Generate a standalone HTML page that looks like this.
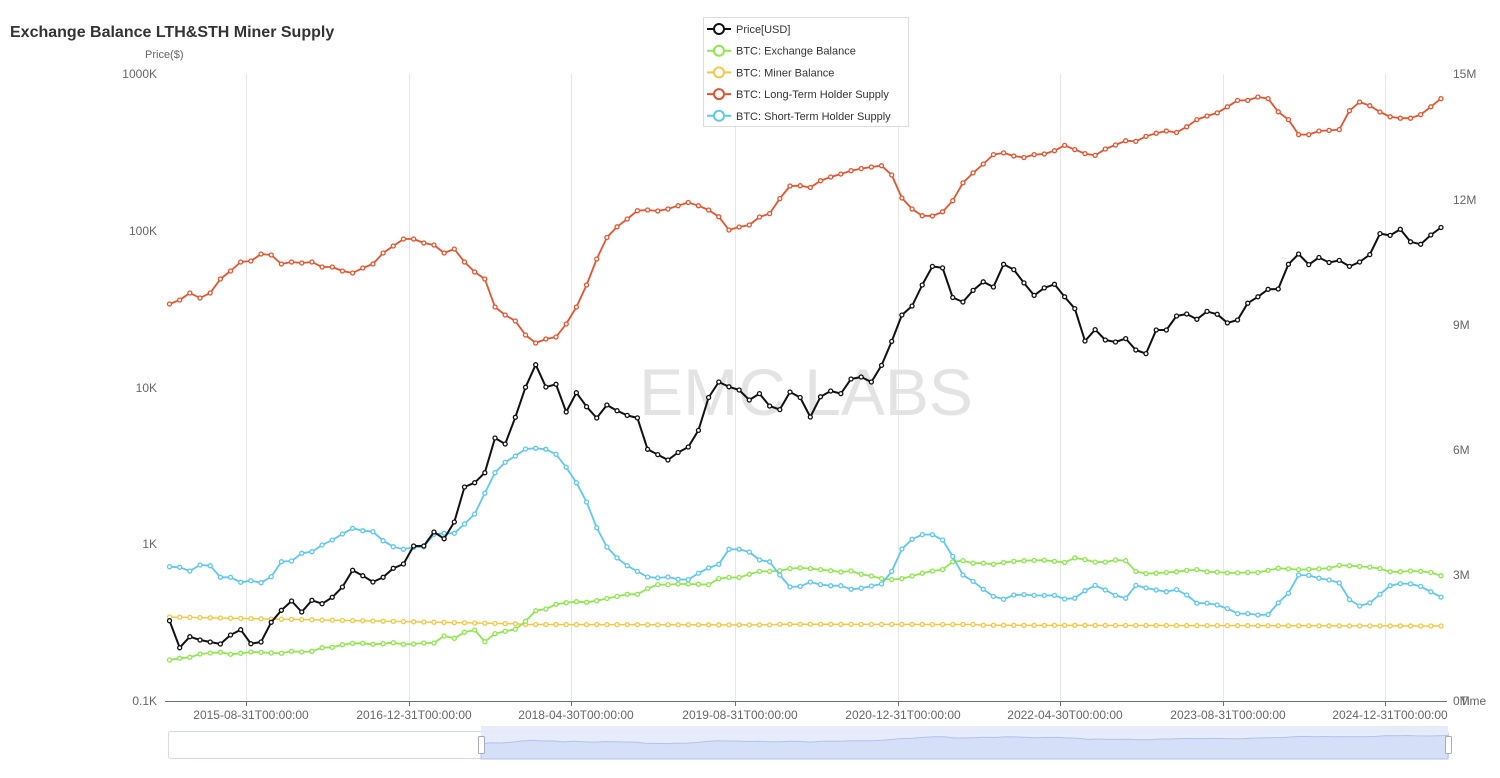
<!DOCTYPE html>
<html><head><meta charset="utf-8"><style>
body{margin:0;background:#fff;}
svg{display:block;font-family:"Liberation Sans",Arial,sans-serif;}
</style></head><body>
<svg id="s" width="1500" height="778" viewBox="0 0 1500 778" xmlns="http://www.w3.org/2000/svg">
<rect width="1500" height="778" fill="#fff"/>
<text x="10" y="37" font-size="16" font-weight="bold" fill="#333">Exchange Balance LTH&amp;STH Miner Supply</text>
<text x="145" y="58" font-size="11" fill="#666">Price($)</text>
<g stroke="#e6e6e6" stroke-width="1">
<line x1="246.5" y1="74" x2="246.5" y2="701"/><line x1="409.5" y1="74" x2="409.5" y2="701"/>
<line x1="571.5" y1="74" x2="571.5" y2="701"/><line x1="735.5" y1="74" x2="735.5" y2="701"/>
<line x1="898.5" y1="74" x2="898.5" y2="701"/><line x1="1060.5" y1="74" x2="1060.5" y2="701"/>
<line x1="1223.5" y1="74" x2="1223.5" y2="701"/><line x1="1385.5" y1="74" x2="1385.5" y2="701"/>
</g>
<text x="806" y="415" font-size="66" fill="#e3e3e3" text-anchor="middle">EMC LABS</text>
<g font-size="12" fill="#666" text-anchor="end">
<text x="157" y="78">1000K</text><text x="157" y="235">100K</text><text x="157" y="392">10K</text>
<text x="157" y="548">1K</text><text x="157" y="705">0.1K</text>
</g>
<g font-size="12" fill="#666">
<text x="1453" y="78">15M</text><text x="1453" y="204">12M</text><text x="1453" y="329">9M</text>
<text x="1453" y="454">6M</text><text x="1453" y="579">3M</text><text x="1453" y="705">0M</text><text x="1460" y="705">Time</text>
</g>
<line x1="165" y1="701.5" x2="1447" y2="701.5" stroke="#6e7079"/>
<g stroke="#6e7079">
<line x1="246.5" y1="701" x2="246.5" y2="706"/><line x1="409.5" y1="701" x2="409.5" y2="706"/>
<line x1="571.5" y1="701" x2="571.5" y2="706"/><line x1="735.5" y1="701" x2="735.5" y2="706"/>
<line x1="898.5" y1="701" x2="898.5" y2="706"/><line x1="1060.5" y1="701" x2="1060.5" y2="706"/>
<line x1="1223.5" y1="701" x2="1223.5" y2="706"/><line x1="1385.5" y1="701" x2="1385.5" y2="706"/>
</g>
<g font-size="12" fill="#666" text-anchor="middle">
<text x="251" y="719">2015-08-31T00:00:00</text><text x="414" y="719">2016-12-31T00:00:00</text>
<text x="576" y="719">2018-04-30T00:00:00</text><text x="740" y="719">2019-08-31T00:00:00</text>
<text x="903" y="719">2020-12-31T00:00:00</text><text x="1065" y="719">2022-04-30T00:00:00</text>
<text x="1228" y="719">2023-08-31T00:00:00</text><text x="1390" y="719">2024-12-31T00:00:00</text>
</g>
<g id="series"></g>
<rect x="168.5" y="731.5" width="1280" height="27" fill="#fff" stroke="#d2dbee" rx="2"/>
<rect x="481" y="726" width="967" height="33" fill="#e4eafb" opacity="0.9"/>
<path id="mini" fill="#d6dff8" stroke="#b4c2ea" stroke-width="1"/>
<rect x="478.5" y="736.5" width="6" height="17" fill="#fff" stroke="#aab" rx="1"/>
<rect x="1445.5" y="736.5" width="6" height="17" fill="#fff" stroke="#aab" rx="1"/>
<rect x="703.5" y="17.5" width="205" height="109" fill="#fff" stroke="#ddd"/>
<g id="legend" font-size="11" fill="#333"></g>
</svg>
<script>
var R=[304,300,293,298,293,279,271,262,261,254,255,264,262,263,262,267,267,271,273,268,264,253,246,239,239,243,245,253,249,262,272,279,307,315,321,335,343,339,337,324,307,285,259,237.5,226.8,219,210.7,210,211,209,205.7,202.5,205.7,210,216.8,230,227,225,217,213.6,198.6,186,185.7,187.5,180.7,177,174,170.7,168.6,167,165.7,175,198,209,215.7,216,211.8,200.7,182.9,172.9,164,154.6,152.9,156,157.5,154.6,154,150.7,145.4,149.6,153.6,155.4,149,145,140.7,141.4,136.4,133.2,131,132.5,126.8,119.6,116,112.9,106.8,100.4,100.4,97,98.6,111.8,119.6,134.6,134.6,131,130.4,129.6,110.7,102,105.7,112,116.8,118.2,118.2,114.6,106.8,98.6];
var K=[620.7,647.7,636.7,640,642,644,635,629.7,643.7,642,622.3,610.3,601,612,600.3,603.7,597.3,587,570.3,575.7,582,577.3,568.3,564,546,546,532,538.7,522,487,482.7,472.7,438,444,417.3,387.3,364.7,387,384.3,412,392.7,406.7,418,405,410.7,415.4,417.9,449.3,454.6,460,452.5,447,430.4,397.5,382,386.8,390,400,393.6,406,409.6,392,397.5,417,396.8,391,393.6,379,377,382,365.4,341.4,315,306,285,266.4,267.9,297.5,302,290.4,281.8,287,264.3,269.6,282.9,295.4,287.9,284.3,296.8,308.6,341,329.6,340,342,338.6,350,353.6,330,330,316,314,319.3,311.4,314.3,322.9,320,303.2,296.8,289.3,289,264.3,254,264.6,257.5,262.5,260.4,266.4,262,254.6,233.6,235.4,229.3,241.8,244.3,235,227.5];
var B=[566.7,567.3,571,565,565.7,577.3,577.3,582.3,580.7,582.7,576.7,561.7,561,553.3,551.7,545,540,534,528.3,530.7,531.7,540.7,546.7,549.3,547.3,546.7,534.3,533.3,533.3,524,514,493.3,472.7,462.3,456,449,448.3,449.3,454.3,467.3,482.7,502,527.7,547,557.9,565.7,571.4,577,577.9,577,579.3,579.6,573.2,567.9,564.3,549.3,549.3,552,560,561.8,575,587,586.4,582,584.6,585.7,585.7,589.3,588.2,586,584,571.4,549,539.3,534.6,534.6,540,556.4,575,581.4,589.3,596.4,599.3,595,594.6,595.4,595.5,595.4,599,598.2,590.7,585.4,590,595.4,598.2,585.4,587.9,590,591.8,589.6,595,603.2,603.2,605,608.6,613.6,613.6,615,614.6,602.9,593.2,575,575.4,578.2,580,582.9,599.6,606,602.9,594.3,585.7,583.6,583.9,586.4,591.8,597.1];
var G=[660,658.3,657.3,654,653,652.3,654.3,653.3,652,652.3,653,653.3,651.3,652,651.3,647.7,647.3,644.7,643.3,643.3,644.3,643.7,642.7,644.3,644,643,643,636,638.3,632.3,630,641.7,633.7,631.3,629.3,621.3,610.7,609,604.3,602.7,601.7,602.3,600.7,598.5,596.4,594.3,594.3,588.6,584.6,584.6,584,584,584.3,584.6,578.6,577.5,577.5,574.3,571.4,571.4,570.7,568.6,567.9,568.6,569.6,570.7,572,571,574.3,576,578.6,579.6,578.6,576,573.2,571,569.6,561.8,560.7,563.2,563.2,564.3,562.5,561.4,560.7,560.4,560.2,561.4,562.5,557.9,559.6,562.1,562.1,560,560.7,571.4,573.6,573.2,572.5,571.8,570.4,569.6,571.8,572.1,572.9,572.9,572.5,572.5,570.4,568.2,568.9,569.6,569.3,568.9,568.2,565.4,565.7,566.4,567.1,568.6,571.8,571.8,571,571.4,572.5,575.7];
var N=126,X=function(i){return 169.5+i*(1271.5/125);};
var Y=[];for(var i=0;i<N;i++){var v;if(i<35)v=617+i*(7/35);else v=624.5+(i-35)*(1.5/90);if(i>=60&&i<80)v-=0.7;Y.push(v);}
var ns="http://www.w3.org/2000/svg",g=document.getElementById('series');
function draw(arr,col,w){var p="";for(var i=0;i<arr.length;i++)p+=(i?"L":"M")+X(i).toFixed(1)+","+arr[i];
var e=document.createElementNS(ns,'path');e.setAttribute('d',p);e.setAttribute('fill','none');e.setAttribute('stroke',col);e.setAttribute('stroke-width',w);e.setAttribute('stroke-linejoin','round');g.appendChild(e);
for(var i=0;i<arr.length;i++){var c=document.createElementNS(ns,'circle');c.setAttribute('cx',X(i));c.setAttribute('cy',arr[i]);c.setAttribute('r',2);c.setAttribute('fill','#fff');c.setAttribute('stroke',col);c.setAttribute('stroke-width',1.3);g.appendChild(c);}}
draw(Y,'#f5c842',1.5);draw(G,'#8ee84d',1.8);draw(B,'#5ec8f0',1.8);draw(R,'#e8532e',1.8);draw(K,'#111',2);
var m="M481,759";for(var i=31;i<N;i++){var x=481+(i-31)*(967/94);var y=752-(701-K[i])*0.035;m+="L"+x.toFixed(1)+","+y.toFixed(1);}m+="L1448,759Z";
document.getElementById('mini').setAttribute('d',m);
var L=document.getElementById('legend'),names=[['Price[USD]','#111'],['BTC: Exchange Balance','#8ee84d'],['BTC: Miner Balance','#f5c842'],['BTC: Long-Term Holder Supply','#e8532e'],['BTC: Short-Term Holder Supply','#5ec8f0']];
names.forEach(function(n,k){var y=29+k*21.7;var l=document.createElementNS(ns,'line');l.setAttribute('x1',707);l.setAttribute('x2',731);l.setAttribute('y1',y);l.setAttribute('y2',y);l.setAttribute('stroke',n[1]);l.setAttribute('stroke-width',2);L.appendChild(l);
var c=document.createElementNS(ns,'circle');c.setAttribute('cx',719);c.setAttribute('cy',y);c.setAttribute('r',5);c.setAttribute('fill','#fff');c.setAttribute('stroke',n[1]);c.setAttribute('stroke-width',2);L.appendChild(c);
var t=document.createElementNS(ns,'text');t.setAttribute('x',736);t.setAttribute('y',y+4);t.textContent=n[0];L.appendChild(t);});
</script>
</body></html>
